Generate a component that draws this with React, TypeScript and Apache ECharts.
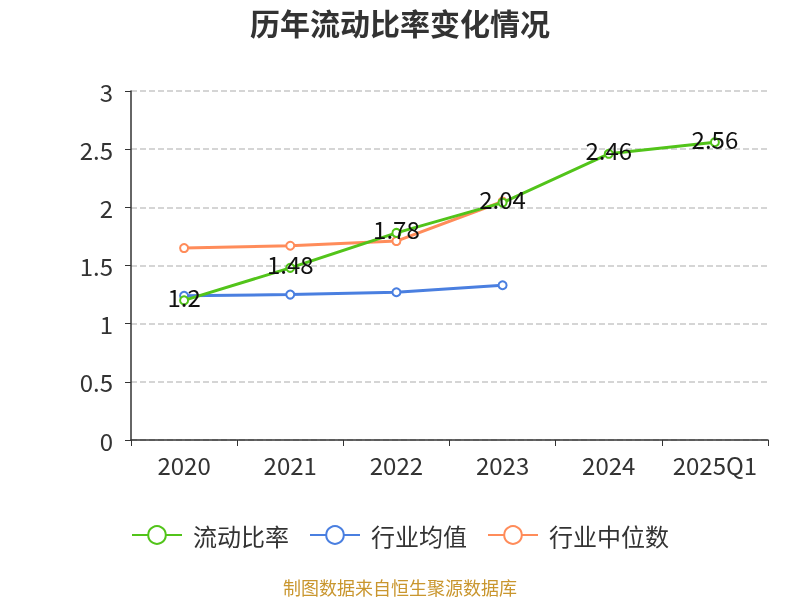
import React, { useEffect, useRef } from "react";
import * as echarts from "echarts";

const categories = ["2020", "2021", "2022", "2023", "2024", "2025Q1"];
const currentRatio = [1.2, 1.48, 1.78, 2.04, 2.46, 2.56];
const industryAvg = [1.24, 1.25, 1.27, 1.33, null, null];
const industryMedian = [1.65, 1.67, 1.71, 2.05, null, null];

export default function App() {
  const ref = useRef<HTMLDivElement>(null);
  useEffect(() => {
    if (!ref.current) return;
    const chart = echarts.init(ref.current, undefined, { renderer: "svg" });
    const font = "'Noto Sans CJK SC', 'Noto Sans', sans-serif";
    chart.setOption({
      animation: false,
      textStyle: { fontFamily: font },
      title: {
        text: "历年流动比率变化情况",
        left: "center",
        top: 2,
        textStyle: { fontSize: 30, fontWeight: "bold", color: "#333", fontFamily: font },
      },
      grid: { left: 131, right: 32, top: 91, bottom: 160 },
      legend: {
        top: 518,
        left: "center",
        itemWidth: 50,
        itemHeight: 22,
        itemGap: 20,
        textStyle: { fontSize: 24, color: "#333", padding: [0, 0, 0, 6] },
        data: ["流动比率", "行业均值", "行业中位数"],
      },
      graphic: [
        {
          type: "text",
          left: "center",
          top: 578,
          style: { text: "制图数据来自恒生聚源数据库", fill: "#c9962e", fontSize: 18, fontFamily: font },
        },
      ],
      xAxis: {
        type: "category",
        data: categories,
        boundaryGap: true,
        axisLine: { lineStyle: { color: "#333", width: 1.5 } },
        axisTick: { show: true, length: 6, lineStyle: { color: "#333" } },
        axisLabel: { fontSize: 24, color: "#333", margin: 12, interval: 0 },
      },
      yAxis: {
        type: "value",
        min: 0,
        max: 3,
        interval: 0.5,
        axisLine: { show: true, lineStyle: { color: "#333", width: 1.5 } },
        axisTick: { show: true, length: 6, lineStyle: { color: "#333" } },
        axisLabel: { fontSize: 24, color: "#333", margin: 18 },
        splitLine: { lineStyle: { type: "dashed", color: "#c8c8c8", width: 1.5 } },
      },
      series: [
        {
          name: "流动比率",
          type: "line",
          data: currentRatio,
          symbol: "emptyCircle",
          symbolSize: 8,
          lineStyle: { width: 3, color: "#52c41a" },
          itemStyle: { color: "#52c41a" },
          label: { show: true, position: "inside", offset: [0, -4], fontSize: 24, color: "#111" },
          z: 3,
        },
        {
          name: "行业均值",
          type: "line",
          data: industryAvg,
          symbol: "emptyCircle",
          symbolSize: 8,
          lineStyle: { width: 3, color: "#4a7fe0" },
          itemStyle: { color: "#4a7fe0" },
          z: 2,
        },
        {
          name: "行业中位数",
          type: "line",
          data: industryMedian,
          symbol: "emptyCircle",
          symbolSize: 8,
          lineStyle: { width: 3, color: "#ff8c5a" },
          itemStyle: { color: "#ff8c5a" },
          z: 2,
        },
      ],
    });
    return () => chart.dispose();
  }, []);
  return (
    <div
      ref={ref}
      style={{ position: "fixed", left: 0, top: 0, width: 800, height: 600 }}
    />
  );
}
